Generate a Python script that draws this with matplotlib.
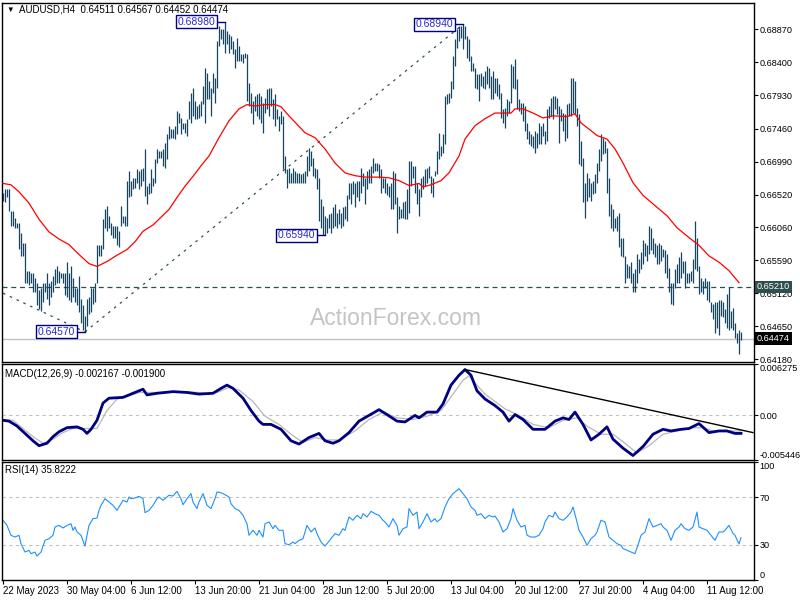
import matplotlib
matplotlib.use("Agg")
import matplotlib.pyplot as plt
import matplotlib.transforms as mtransforms
import numpy as np

plt.rcParams["font.family"] = ["Liberation Sans", "DejaVu Sans"]

symbol = "AUDUSD,H4"
last_ohlc = [0.64511, 0.64567, 0.64452, 0.64474]

# H4 bar highs / lows (price x 10000), 22 May 20:00 -> 15 Aug
highs = [
    6655, 6660, 6660, 6660, 6629, 6629, 6619, 6612, 6612, 6598,
    6584, 6584, 6544, 6544, 6541, 6541, 6534, 6526, 6516, 6519,
    6527, 6526, 6541, 6527, 6530, 6537, 6547, 6551, 6544, 6541,
    6541, 6540, 6556, 6541, 6551, 6533, 6519, 6520, 6537, 6504,
    6495, 6480, 6504, 6506, 6519, 6520, 6527, 6580, 6580, 6580,
    6618, 6632, 6636, 6622, 6612, 6608, 6608, 6608, 6601, 6636,
    6622, 6622, 6672, 6686, 6672, 6676, 6676, 6689, 6686, 6689,
    6690, 6717, 6665, 6669, 6689, 6675, 6703, 6717, 6714, 6714,
    6717, 6726, 6738, 6750, 6745, 6745, 6750, 6771, 6768, 6761,
    6754, 6754, 6760, 6785, 6797, 6804, 6785, 6778, 6781, 6785,
    6806, 6832, 6825, 6814, 6804, 6825, 6818, 6870, 6892, 6887,
    6887, 6898, 6884, 6880, 6877, 6870, 6859, 6875, 6863, 6852,
    6852, 6853, 6852, 6811, 6797, 6785, 6792, 6795, 6797, 6792,
    6782, 6789, 6802, 6804, 6804, 6788, 6795, 6774, 6764, 6771,
    6764, 6707, 6689, 6690, 6683, 6690, 6686, 6683, 6683, 6682,
    6683, 6686, 6707, 6719, 6714, 6704, 6690, 6689, 6675, 6646,
    6636, 6622, 6619, 6625, 6626, 6634, 6639, 6626, 6632, 6626,
    6634, 6636, 6651, 6669, 6669, 6672, 6669, 6672, 6672, 6690,
    6683, 6676, 6686, 6689, 6693, 6704, 6697, 6697, 6696, 6689,
    6675, 6675, 6669, 6665, 6668, 6686, 6683, 6648, 6636, 6632,
    6641, 6643, 6660, 6700, 6700, 6693, 6693, 6669, 6660, 6675,
    6679, 6689, 6690, 6693, 6679, 6676, 6686, 6714, 6740, 6721,
    6738, 6792, 6795, 6797, 6814, 6849, 6873, 6887, 6892, 6892,
    6894, 6892, 6877, 6873, 6849, 6839, 6832, 6823, 6823, 6825,
    6821, 6828, 6835, 6832, 6821, 6828, 6818, 6818, 6809, 6797,
    6774, 6775, 6788, 6785, 6838, 6835, 6845, 6816, 6788, 6782,
    6782, 6778, 6754, 6743, 6738, 6736, 6743, 6740, 6754, 6750,
    6754, 6743, 6774, 6778, 6789, 6792, 6792, 6789, 6778, 6774,
    6768, 6767, 6781, 6782, 6818, 6818, 6814, 6775, 6767, 6728,
    6704, 6669, 6683, 6675, 6669, 6672, 6682, 6697, 6717, 6738,
    6733, 6728, 6719, 6676, 6639, 6632, 6619, 6622, 6626, 6591,
    6591, 6565, 6554, 6551, 6556, 6541, 6547, 6568, 6561, 6570,
    6587, 6584, 6580, 6608, 6605, 6591, 6584, 6580, 6584, 6580,
    6575, 6573, 6568, 6548, 6527, 6526, 6547, 6554, 6563, 6570,
    6558, 6558, 6541, 6540, 6544, 6561, 6615, 6590, 6551, 6533,
    6530, 6533, 6530, 6530, 6499, 6497, 6499, 6499, 6502, 6502,
    6499, 6490, 6511, 6521, 6487, 6491, 6469, 6456, 6459, 6457,
]
lows = [
    6643, 6641, 6648, 6629, 6608, 6608, 6605, 6604, 6575, 6565,
    6565, 6527, 6527, 6523, 6527, 6513, 6513, 6495, 6490, 6487,
    6499, 6513, 6504, 6495, 6506, 6513, 6523, 6527, 6527, 6533,
    6527, 6509, 6506, 6502, 6499, 6506, 6499, 6495, 6485, 6470,
    6459, 6457, 6466, 6483, 6485, 6497, 6499, 6527, 6565, 6565,
    6575, 6604, 6601, 6604, 6594, 6590, 6591, 6580, 6577, 6608,
    6612, 6608, 6608, 6648, 6650, 6660, 6662, 6669, 6660, 6665,
    6672, 6650, 6639, 6653, 6655, 6665, 6669, 6697, 6704, 6704,
    6693, 6690, 6703, 6731, 6733, 6733, 6731, 6738, 6754, 6738,
    6745, 6740, 6736, 6760, 6754, 6764, 6760, 6760, 6761, 6764,
    6781, 6754, 6788, 6788, 6764, 6797, 6782, 6804, 6863, 6873,
    6866, 6853, 6866, 6853, 6859, 6852, 6832, 6842, 6842, 6842,
    6839, 6846, 6785, 6778, 6768, 6753, 6771, 6764, 6760, 6754,
    6740, 6768, 6774, 6764, 6778, 6760, 6750, 6760, 6743, 6753,
    6689, 6683, 6662, 6669, 6668, 6668, 6668, 6669, 6668, 6668,
    6669, 6669, 6679, 6686, 6693, 6679, 6675, 6660, 6615, 6604,
    6595, 6594, 6597, 6604, 6598, 6604, 6608, 6604, 6611, 6604,
    6608, 6618, 6615, 6646, 6639, 6653, 6634, 6648, 6643, 6655,
    6665, 6639, 6660, 6668, 6669, 6683, 6686, 6686, 6675, 6655,
    6662, 6655, 6651, 6648, 6632, 6632, 6639, 6597, 6618, 6619,
    6619, 6618, 6618, 6626, 6665, 6675, 6655, 6639, 6622, 6648,
    6660, 6665, 6669, 6675, 6655, 6648, 6679, 6682, 6703, 6707,
    6711, 6724, 6781, 6782, 6789, 6802, 6835, 6860, 6870, 6875,
    6859, 6873, 6846, 6842, 6828, 6828, 6804, 6802, 6785, 6806,
    6804, 6802, 6809, 6804, 6788, 6788, 6797, 6792, 6788, 6761,
    6754, 6747, 6764, 6768, 6782, 6804, 6802, 6774, 6771, 6767,
    6757, 6743, 6731, 6724, 6721, 6719, 6711, 6719, 6724, 6724,
    6736, 6724, 6728, 6761, 6764, 6760, 6774, 6767, 6726, 6757,
    6743, 6728, 6733, 6764, 6764, 6768, 6767, 6750, 6696, 6693,
    6641, 6619, 6643, 6648, 6643, 6653, 6655, 6668, 6686, 6700,
    6710, 6711, 6655, 6622, 6604, 6601, 6604, 6601, 6577, 6565,
    6563, 6526, 6534, 6534, 6526, 6513, 6513, 6527, 6541, 6547,
    6554, 6565, 6558, 6568, 6573, 6568, 6563, 6554, 6554, 6558,
    6563, 6540, 6533, 6513, 6497, 6495, 6519, 6527, 6527, 6533,
    6540, 6520, 6527, 6526, 6530, 6527, 6547, 6544, 6511, 6513,
    6511, 6519, 6502, 6499, 6485, 6476, 6455, 6463, 6452, 6480,
    6478, 6470, 6462, 6459, 6463, 6459, 6449, 6441, 6426, 6445,
]

# moving average (bar, price x 10000)
ma_points = [
    (0, 6668), (4, 6666), (8, 6656), (13, 6640), (18, 6617), (23, 6599),
    (28, 6589), (33, 6581), (38, 6567), (43, 6554), (47, 6550), (52, 6557),
    (57, 6566), (62, 6574), (66, 6585), (70, 6600), (75, 6609), (79, 6620),
    (83, 6631), (87, 6648), (91, 6664), (95, 6678), (99, 6693), (103, 6707),
    (108, 6733), (113, 6757), (118, 6774), (122, 6780), (126, 6778), (131, 6780),
    (136, 6780), (139, 6777), (143, 6764), (151, 6740), (156, 6733), (161, 6717),
    (166, 6697), (171, 6683), (176, 6679), (181, 6677), (188, 6677), (193, 6676),
    (198, 6672), (203, 6665), (208, 6668), (210, 6663), (214, 6666), (219, 6672),
    (223, 6683), (228, 6707), (231, 6731), (236, 6750), (241, 6760), (246, 6768),
    (249, 6768), (254, 6768), (256, 6774), (260, 6774), (265, 6768), (270, 6761),
    (275, 6764), (282, 6763), (286, 6767), (289, 6754), (294, 6743), (297, 6736),
    (302, 6731), (306, 6717), (310, 6697), (315, 6669), (320, 6651), (327, 6634),
    (332, 6622), (337, 6605), (343, 6591), (348, 6580), (353, 6565), (358, 6556),
    (363, 6544), (368, 6527),
]

macd_points = [
    (0, -0.0006), (3, -0.0007), (7, -0.0013), (11, -0.0022), (15, -0.0031),
    (18, -0.0037), (22, -0.0034), (25, -0.0026), (28, -0.0020), (32, -0.0015),
    (37, -0.0014), (40, -0.0017), (42, -0.0022), (44, -0.0017), (47, -0.0006),
    (50, 0.0015), (53, 0.0021), (60, 0.0022), (65, 0.0027), (70, 0.0032),
    (72, 0.0025), (77, 0.0027), (85, 0.0029), (92, 0.0028), (98, 0.0026),
    (105, 0.0027), (109, 0.0033), (112, 0.0037), (115, 0.0033), (120, 0.0021),
    (124, 0.0006), (128, -0.0007), (130, -0.0011), (134, -0.0011), (139, -0.0017),
    (144, -0.0031), (148, -0.0035), (153, -0.0027), (158, -0.0022), (161, -0.0031),
    (165, -0.0034), (168, -0.0031), (173, -0.0021), (178, -0.0007), (183, 0.0000),
    (188, 0.0007), (192, 0.0001), (197, -0.0007), (201, -0.0008), (206, 0.0000),
    (208, -0.0003), (212, 0.0004), (217, 0.0004), (220, 0.0014), (224, 0.0037),
    (228, 0.0049), (231, 0.0056), (234, 0.0049), (237, 0.0030), (241, 0.0020),
    (246, 0.0012), (250, 0.0004), (253, -0.0007), (256, 0.0001), (260, -0.0005),
    (265, -0.0017), (271, -0.0017), (276, -0.0007), (280, -0.0003), (283, -0.0005),
    (286, 0.0004), (290, -0.0011), (294, -0.0030), (298, -0.0023), (302, -0.0014),
    (305, -0.0029), (310, -0.0040), (315, -0.0049), (320, -0.0038), (325, -0.0023),
    (330, -0.0017), (334, -0.0019), (339, -0.0017), (343, -0.0016), (348, -0.0010),
    (353, -0.0021), (358, -0.0019), (362, -0.0019), (366, -0.0022), (369, -0.0022),
]

signal_points = [
    (0, -0.0005), (5, -0.0006), (10, -0.0016), (15, -0.0026), (20, -0.0034),
    (25, -0.0029), (30, -0.0021), (35, -0.0016), (42, -0.0016), (47, -0.0016),
    (52, 0.0006), (57, 0.0020), (62, 0.0023), (68, 0.0028), (75, 0.0028),
    (82, 0.0028), (92, 0.0029), (102, 0.0027), (107, 0.0028), (113, 0.0034),
    (118, 0.0031), (125, 0.0017), (131, -0.0001), (138, -0.0011), (144, -0.0023),
    (150, -0.0033), (156, -0.0027), (162, -0.0030), (168, -0.0030), (176, -0.0019),
    (183, -0.0005), (190, 0.0004), (197, -0.0003), (205, -0.0005), (212, -0.0001),
    (219, 0.0006), (225, 0.0026), (230, 0.0043), (233, 0.0048), (241, 0.0026),
    (251, 0.0008), (258, 0.0000), (265, -0.0011), (273, -0.0015), (280, -0.0006),
    (287, -0.0003), (292, -0.0013), (299, -0.0023), (305, -0.0023), (311, -0.0034),
    (317, -0.0046), (323, -0.0037), (330, -0.0023), (337, -0.0019), (345, -0.0015),
    (350, -0.0015), (355, -0.0019), (362, -0.0019), (369, -0.0019),
]

rsi_points = [
    (0, 50.6), (2, 46.3), (4, 37.9), (6, 36.4), (8, 37.9), (9, 30.8), (11, 23.7),
    (13, 25.1), (14, 22.3), (16, 23.7), (17, 20.3), (19, 23.7), (21, 33.6), (23, 35.0),
    (25, 37.9), (26, 44.9), (28, 46.3), (30, 44.1), (32, 46.3), (34, 47.7), (35, 42.1),
    (36, 44.9), (37, 40.7), (39, 37.9), (41, 28.8), (42, 37.9), (43, 46.3), (45, 52.0),
    (47, 52.5), (48, 59.0), (49, 63.3), (51, 68.9), (53, 66.1), (55, 63.3), (57, 59.0),
    (58, 61.9), (60, 67.5), (62, 66.1), (63, 70.3), (64, 68.9), (66, 69.5), (68, 70.9),
    (70, 68.9), (71, 57.1), (73, 59.0), (75, 63.3), (77, 68.9), (78, 70.3), (80, 67.5),
    (81, 68.9), (83, 71.8), (85, 71.2), (87, 75.1), (89, 68.9), (90, 63.8), (92, 68.9),
    (94, 73.2), (95, 66.1), (97, 60.5), (98, 66.1), (100, 73.2), (102, 63.3), (104, 60.5),
    (106, 68.9), (107, 74.6), (109, 74.0), (111, 72.3), (113, 70.3), (114, 64.7),
    (116, 60.5), (118, 59.0), (120, 54.8), (122, 47.7), (123, 37.9), (125, 42.1),
    (127, 37.9), (128, 42.1), (130, 36.4), (131, 47.7), (133, 49.2), (135, 43.5),
    (136, 46.3), (138, 42.1), (140, 42.1), (141, 30.8), (143, 29.9), (145, 32.2),
    (146, 30.8), (148, 33.6), (150, 35.0), (152, 46.3), (154, 40.7), (156, 44.1),
    (157, 39.3), (159, 32.2), (161, 28.8), (162, 30.8), (164, 35.0), (166, 39.3),
    (168, 37.9), (170, 43.5), (171, 42.1), (173, 53.4), (175, 50.6), (177, 54.8),
    (179, 52.0), (180, 56.2), (182, 53.4), (184, 58.2), (186, 56.2), (188, 54.8),
    (190, 50.6), (191, 49.2), (193, 44.9), (195, 52.0), (197, 46.3), (198, 37.9),
    (200, 43.5), (202, 44.9), (203, 60.5), (205, 54.8), (207, 57.6), (208, 43.5),
    (210, 49.2), (212, 56.2), (214, 49.2), (216, 52.0), (217, 49.2), (219, 52.0),
    (221, 61.9), (223, 68.9), (225, 73.2), (227, 76.0), (228, 77.4), (230, 73.2),
    (232, 68.9), (234, 61.9), (236, 59.0), (237, 54.8), (239, 56.2), (241, 52.0),
    (243, 54.8), (245, 53.4), (246, 54.2), (248, 49.2), (250, 40.7), (252, 43.5),
    (254, 52.0), (255, 60.5), (257, 50.6), (259, 44.9), (261, 46.3), (262, 37.9),
    (264, 36.4), (266, 36.4), (268, 37.9), (270, 43.5), (271, 49.2), (273, 54.8),
    (275, 53.4), (276, 57.6), (278, 52.0), (280, 50.6), (282, 53.4), (284, 57.6),
    (285, 61.9), (287, 49.2), (288, 42.1), (290, 36.4), (292, 29.4), (294, 35.0),
    (296, 37.9), (297, 40.7), (299, 50.6), (301, 49.2), (303, 36.4), (305, 33.6),
    (307, 30.8), (309, 29.4), (310, 26.6), (312, 25.1), (314, 23.7), (316, 22.3),
    (318, 32.2), (319, 37.9), (321, 40.7), (323, 52.0), (325, 44.9), (327, 46.3),
    (329, 47.7), (330, 44.9), (332, 42.1), (334, 33.6), (336, 42.1), (338, 44.9),
    (339, 47.7), (341, 43.5), (343, 42.1), (345, 44.9), (347, 57.6), (348, 44.9),
    (350, 43.5), (352, 42.1), (354, 37.9), (356, 33.6), (358, 40.7), (360, 40.7),
    (361, 42.1), (363, 46.3), (365, 39.3), (366, 37.9), (368, 30.5), (369, 35.8),
]

price_ticks = [0.68870, 0.68400, 0.67930, 0.67460, 0.66990, 0.66520,
               0.66060, 0.65590, 0.65120, 0.64650, 0.64180]
level_price = 0.65210
left_line_start = 0.6512          # start of falling trend line at first bar
macd_line_end = (375, -0.0021)    # MACD resistance line end
macd_range = (-0.005446, 0.006275)
macd_last, signal_last, rsi_last = -0.002167, -0.001900, 35.8222
time_labels = ["22 May 2023", "30 May 04:00", "6 Jun 12:00", "13 Jun 20:00",
               "21 Jun 04:00", "28 Jun 12:00", "5 Jul 20:00", "13 Jul 04:00",
               "20 Jul 12:00", "27 Jul 20:00", "4 Aug 04:00", "11 Aug 12:00"]
bars_per_label = 32

BAR = "#17445e"
NAVY = "#000080"
SLATE = "#2f4f4f"

hi = np.array(highs) / 10000
lo = np.array(lows) / 10000
idx = np.arange(len(hi))
close = last_ohlc[3]

fig = plt.figure(figsize=(8, 6), dpi=100)


def panel(top, bottom):
    a = fig.add_axes([2 / 800, 1 - bottom / 600, 752 / 800, (bottom - top) / 600])
    a.set_xlim(-0.5, 375.5)
    a.yaxis.tick_right()
    a.tick_params(axis="y", direction="out", length=3, width=0.8, pad=1.2,
                  labelsize=6.6, colors="black")
    a.tick_params(axis="x", bottom=False, labelbottom=False)
    for s in a.spines.values():
        s.set_linewidth(1.0)
        s.set_color("black")
    return a


ax = panel(3, 362)
ax_m = panel(364, 460)
ax_r = panel(462, 580)

# ---- price panel
ax.set_ylim(0.64142, 0.69244)
ax.set_yticks(price_ticks)
ax.set_yticklabels([f"{t:.5f}" for t in price_ticks])
ax.vlines(idx, lo, hi, color=BAR, lw=0.9, zorder=3)
mx, my = zip(*ma_points)
ax.plot(mx, np.array(my) / 10000, color="red", lw=0.9, zorder=4)
ax.axhline(level_price, color=SLATE, lw=0.9, ls=(0, (4, 3)), zorder=2)
ax.axhline(close, color="#c0c0c0", lw=1, zorder=1)

i_top1 = int(np.argmax(hi[:200]))
i_bot1 = int(np.argmin(lo[:100]))
i_bot2 = 100 + int(np.argmin(lo[100:200]))
i_top2 = 200 + int(np.argmax(hi[200:300]))

ax.plot([0, i_bot1], [left_line_start, lo[i_bot1]], color=SLATE, lw=0.9,
        ls=(0, (2, 4)), zorder=2)
ax.plot([i_bot1, i_top2], [lo[i_bot1], hi[i_top2]], color=SLATE, lw=0.9,
        ls=(0, (2, 4)), zorder=2)

for i, v in [(i_top1, hi[i_top1]), (i_bot1, lo[i_bot1]),
             (i_bot2, lo[i_bot2]), (i_top2, hi[i_top2])]:
    ax.plot([i - 5, i], [v, v], color=NAVY, lw=1, zorder=5)
    ax.text(i - 5, v, f"{v:.5f}", ha="right", va="center", fontsize=7.5,
            color="#2a2ad0", zorder=6,
            bbox=dict(boxstyle="square,pad=0.15", fc="white", ec=NAVY, lw=1))

ax.text(0.524, 0.12, "ActionForex.com", transform=ax.transAxes, ha="center",
        va="center", fontsize=16.5, color="#c4c4c4", zorder=0)

ytrans = mtransforms.blended_transform_factory(ax.transAxes, ax.transData)
for v, fc in [(level_price, SLATE), (close, "black")]:
    ax.text(1.004, v, f"{v:.5f}", transform=ytrans, ha="left", va="center",
            fontsize=6.6, color="white", zorder=10, clip_on=False,
            bbox=dict(boxstyle="square,pad=0.2", fc=fc, ec="none"))

fig.text(6 / 800, 1 - 10 / 600, "\u25bc", fontsize=5.5, va="center", ha="left")
fig.text(19 / 800, 1 - 10 / 600,
         f"{symbol}  " + " ".join(f"{v:.5f}" for v in last_ohlc),
         fontsize=7, va="center", ha="left")

# ---- MACD panel
ax_m.set_ylim(*macd_range)
ax_m.set_yticks([macd_range[1], 0.0, macd_range[0]])
labs = ax_m.set_yticklabels([f"{macd_range[1]:.6f}", "0.00", f"{macd_range[0]:.6f}"])
labs[0].set_va("top")
labs[2].set_va("bottom")
ax_m.axhline(0, color="#c0c0c0", lw=0.8, ls=(0, (3, 3)))
sx, sy = zip(*signal_points)
ax_m.plot(sx, sy, color="#b8b8b8", lw=0.9)
cx, cy = zip(*macd_points)
ax_m.plot(cx, cy, color=NAVY, lw=2)
i_pk = int(np.argmax(cy))
ax_m.plot([cx[i_pk], macd_line_end[0]], [cy[i_pk], macd_line_end[1]],
          color="black", lw=1, clip_on=True)
ax_m.text(3 / 752, 1 - 10 / 96,
          f"MACD(12,26,9) {macd_last:.6f} {signal_last:.6f}",
          transform=ax_m.transAxes, fontsize=7, va="center", ha="left")

# ---- RSI panel
ax_r.set_ylim(0, 100)
ax_r.set_yticks([100, 70, 30, 0])
labs = ax_r.set_yticklabels(["100", "70", "30", "0"])
labs[0].set_va("top")
labs[3].set_va("bottom")
for lvl in (70, 30):
    ax_r.axhline(lvl, color="#c0c0c0", lw=0.8, ls=(0, (3, 3)))
rx, ry = zip(*rsi_points)
ax_r.plot(rx, ry, color="#1e90ff", lw=0.8)
ax_r.text(3 / 752, 1 - 8 / 118, f"RSI(14) {rsi_last:.4f}",
          transform=ax_r.transAxes, fontsize=7, va="center", ha="left")

ax_r.tick_params(axis="x", bottom=True, labelbottom=True, direction="out",
                 length=3, width=0.8, pad=1.5, labelsize=7)
ax_r.set_xticks(np.arange(len(time_labels)) * bars_per_label)
ax_r.set_xticklabels(time_labels, ha="left")

fig.savefig("out.png", dpi=100)
